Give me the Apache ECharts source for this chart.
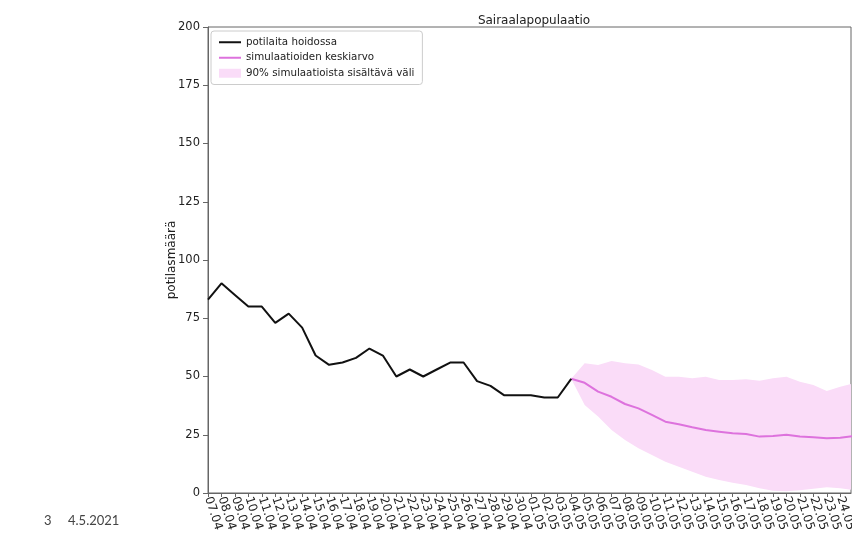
<!DOCTYPE html>
<html>
<head>
<meta charset="utf-8">
<script src="https://cdn.jsdelivr.net/npm/echarts@6/dist/echarts.min.js"></script>
<style>
html,body{margin:0;padding:0;background:#fff;}
#chart{width:852px;height:537px;}
</style>
</head>
<body>
<div id="chart"></div>
<script>
// ---- data ----
const dateLabels = ['07.04','08.04','09.04','10.04','11.04','12.04','13.04','14.04','15.04','16.04',
  '17.04','18.04','19.04','20.04','21.04','22.04','23.04','24.04','25.04','26.04','27.04','28.04',
  '29.04','30.04','01.05','02.05','03.05','04.05','05.05','06.05','07.05','08.05','09.05','10.05',
  '11.05','12.05','13.05','14.05','15.05','16.05','17.05','18.05','19.05','20.05','21.05','22.05',
  '23.05','24.05'];
const observed = [83,90,85,80,80,73,77,71,59,55,56,58,62,59,50,53,50,53,56,56,48,46,42,42,42,41,41,49];
const simStartDay = 27;
const simMean  = [49,47.3,43.5,41.3,38.2,36.3,33.5,30.6,29.5,28.2,27,26.3,25.6,25.3,24.2,24.5,25,24.2,23.9,23.5,23.7,24.5];
const simUpper = [49,55.7,54.9,56.6,55.7,55.2,52.8,49.9,49.9,49.2,49.9,48.5,48.5,48.8,48.2,49.2,49.9,47.8,46.4,43.8,45.6,47.1];
const simLower = [49,37.8,32.8,27,22.7,19.2,16.3,13.4,11.3,9.1,7,5.6,4.4,3.4,2,1.0,0.8,1.2,1.8,2.5,2,1.3];
const yTicks = [0,25,50,75,100,125,150,175,200];

const nameObs = 'potilaita hoidossa';
const nameMean = 'simulaatioiden keskiarvo';
const nameBand = '90% simulaatioista sisältävä väli';

const obsData = observed.map((v,i)=>[i,v]);
const meanData = simMean.map((v,i)=>[simStartDay+i,v]);
const bandData = simUpper.map((v,i)=>[simStartDay+i,simLower[i],v]);

const FONT = 'DejaVu Sans';
const BAND = '#FADCF8';
const MEAN = '#DD72DD';
const chart = echarts.init(document.getElementById('chart'));
chart.setOption({
  animation:false,
  backgroundColor:'#fff',
  title:{text:'Sairaalapopulaatio',left:529,top:10,textAlign:'center',
    textStyle:{fontFamily:FONT,fontSize:12,fontWeight:'normal',color:'#222'}},
  grid:{left:208,right:1,top:27,bottom:44,show:true,borderColor:'#666',borderWidth:1,
    outerBoundsMode:'none',containLabel:false},
  legend:{
    orient:'vertical',left:211,top:31,
    padding:[5,8,5,8],itemGap:3,itemWidth:22,itemHeight:9,
    borderColor:'#ccc',borderWidth:1,borderRadius:3,backgroundColor:'rgba(255,255,255,0.85)',
    textStyle:{fontFamily:FONT,fontSize:10.3,color:'#222',lineHeight:12.5},
    data:[
      {name:nameObs,icon:'path://M0,0H22V2H0Z',itemStyle:{color:'#111'}},
      {name:nameMean,icon:'path://M0,0H22V2H0Z',itemStyle:{color:MEAN}},
      {name:nameBand,icon:'rect',itemStyle:{color:BAND}}
    ]
  },
  xAxis:{
    type:'value',min:0,max:47.8,interval:1,
    axisLine:{show:true,lineStyle:{color:'#666'}},
    axisTick:{show:true,length:4,lineStyle:{color:'#666'}},
    splitLine:{show:false},
    axisLabel:{
      rotate:-72,margin:4,fontFamily:FONT,fontSize:12,color:'#222',
      showMaxLabel:false,hideOverlap:false,
      formatter:function(v){
        if (Math.abs(v-Math.round(v))>1e-6) return '';
        const s = dateLabels[Math.round(v)];
        return s===undefined?'':s;
      }
    }
  },
  yAxis:{
    type:'value',min:yTicks[0],max:yTicks[yTicks.length-1],interval:yTicks[1]-yTicks[0],
    name:'potilasmäärä',nameLocation:'middle',nameGap:30,nameMoveOverlap:false,
    nameTextStyle:{fontFamily:FONT,fontSize:12,color:'#222'},
    axisLine:{show:true,lineStyle:{color:'#666'}},
    axisTick:{show:true,length:5,lineStyle:{color:'#666'}},
    splitLine:{show:false},
    axisLabel:{margin:8,fontFamily:FONT,fontSize:11.5,color:'#222'}
  },
  series:[
    {name:nameBand,type:'custom',data:bandData,itemStyle:{color:BAND},z:1,
      encode:{x:0,y:[1,2]},
      renderItem:function(params,api){
        if (params.dataIndex!==0) return null;
        const top=[],bot=[];
        for (let i=0;i<bandData.length;i++){
          top.push(api.coord([bandData[i][0],bandData[i][2]]));
          bot.push(api.coord([bandData[i][0],bandData[i][1]]));
        }
        const pts = top.concat(bot.reverse());
        const cs = params.coordSys;
        return {type:'polygon',shape:{points:pts},style:{fill:BAND},
          clipPath:{type:'rect',shape:{x:cs.x,y:cs.y,width:cs.width,height:cs.height}}};
      }
    },
    {name:nameMean,type:'line',data:meanData,symbol:'none',
      itemStyle:{color:MEAN},lineStyle:{color:MEAN,width:2},z:3},
    {name:nameObs,type:'line',data:obsData,symbol:'none',
      itemStyle:{color:'#111'},lineStyle:{color:'#111',width:2},z:4}
  ],
  graphic:[
    {type:'text',left:44,top:514,style:{text:'3',font:'13px Lato',fill:'#444'}},
    {type:'text',left:68,top:514,style:{text:'4.5.2021',font:'13px Lato',fill:'#444'}}
  ]
});
</script>
</body>
</html>
